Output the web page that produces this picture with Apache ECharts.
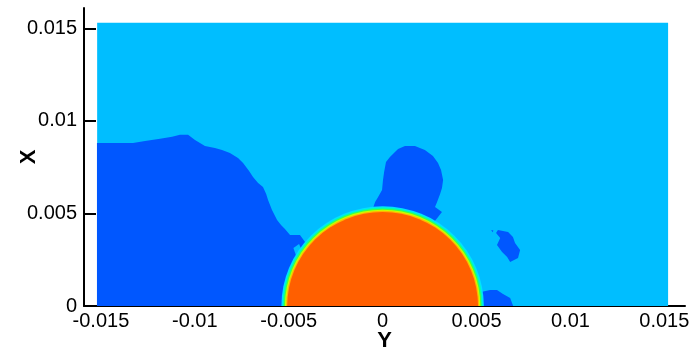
<!DOCTYPE html>
<html>
<head>
<meta charset="utf-8">
<script src="https://cdn.jsdelivr.net/npm/echarts@6/dist/echarts.min.js"></script>
<style>
html,body{margin:0;padding:0;background:#fff;}
#chart{width:690px;height:353px;}
</style>
</head>
<body>
<div id="chart"></div>
<script>
// ---- axis ranges and ticks ----
var xRange = [-0.0159, 0.0161];
var yRange = [0, 0.0161];
var xMajorTicks = [-0.015, -0.01, -0.005, 0, 0.005, 0.01, 0.015];
var xMajorLabels = ['-0.015', '-0.01', '-0.005', '0', '0.005', '0.01', '0.015'];
var xMinorTicks = [-0.014, -0.013, -0.012, -0.011, -0.009, -0.008, -0.007, -0.006,
  -0.004, -0.003, -0.002, -0.001, 0.001, 0.002, 0.003, 0.004, 0.006, 0.007, 0.008,
  0.009, 0.011, 0.012, 0.013, 0.014];
var yMajorTicks = [0, 0.005, 0.01, 0.015];
var yMajorLabels = ['0', '0.005', '0.01', '0.015'];
var yMinorTicks = [0.001, 0.002, 0.003, 0.004, 0.006, 0.007, 0.008, 0.009,
  0.011, 0.012, 0.013, 0.014];

// ---- field domain (x extent, y extent) ----
var domainX = [-0.0152, 0.0152];
var domainY = [0, 0.0153];

// ---- low-value (dark blue) regions, [Y, X] data points ----
var leftBlob = [[-0.01521, 0], [-0.01521, 0.00881], [-0.01329, 0.00881], [-0.01265, 0.00892],
  [-0.01185, 0.00903], [-0.01121, 0.00914], [-0.01079, 0.00925], [-0.01036, 0.00925],
  [-0.00999, 0.00897], [-0.00946, 0.00865], [-0.00893, 0.00854], [-0.00855, 0.00843],
  [-0.00813, 0.00827], [-0.00770, 0.00800], [-0.00743, 0.00773], [-0.00711, 0.00730],
  [-0.00690, 0.00697], [-0.00663, 0.00665], [-0.00637, 0.00643], [-0.00620, 0.00605],
  [-0.00610, 0.00573], [-0.00589, 0.00519], [-0.00562, 0.00465], [-0.00541, 0.00438],
  [-0.00520, 0.00416], [-0.00493, 0.00384], [-0.00440, 0.00384], [-0.00413, 0.00346],
  [-0.00333, 0.00249], [-0.00280, 0]];
var leftNotch = [[-0.00475, 0.00314], [-0.00445, 0.00335], [-0.00430, 0.00300], [-0.00460, 0.00270]];
var topBubble = [[-0.00051, 0.00529], [-0.00040, 0.00562], [-0.00024, 0.00589], [-0.00003, 0.00627],
  [0.00002, 0.00681], [0.00008, 0.00724], [0.00018, 0.00778], [0.00039, 0.00805],
  [0.00082, 0.00848], [0.00119, 0.00864], [0.00172, 0.00864], [0.00225, 0.00843],
  [0.00268, 0.00811], [0.00295, 0.00773], [0.00311, 0.00735], [0.00322, 0.00681],
  [0.00316, 0.00638], [0.00306, 0.00605], [0.00290, 0.00562], [0.00279, 0.00535],
  [0.00316, 0.00508], [0.00199, 0.00357], [-0.00014, 0.00357]];
var rightBlob = [[0.00614, 0.00411], [0.00668, 0.00400], [0.00694, 0.00373], [0.00705, 0.00340],
  [0.00732, 0.00303], [0.00721, 0.00259], [0.00679, 0.00238], [0.00663, 0.00265],
  [0.00636, 0.00292], [0.00609, 0.00330], [0.00626, 0.00367], [0.00604, 0.00394]];
var rightSpeck = [[0.00578, 0.00410], [0.00590, 0.00408], [0.00586, 0.00398]];
var floorBlob = [[0.00508, 0], [0.00524, 0.00076], [0.00572, 0.00086], [0.00609, 0.00086],
  [0.00641, 0.00065], [0.00679, 0.00043], [0.00695, 0]];

// ---- droplet: centre and contour-band radii (outer to inner) ----
var dropCenter = [0, 0];
var dropRadii = [0.00539, 0.00532, 0.00526, 0.00520, 0.00514, 0.00508];

// ---- styles ----
var bgColor = '#00BEFF';
var lowColor = '#0057FF';
var bandColors = ['#00E2FF', '#00FFB4', '#46FF3C', '#C8FF00', '#FFB400', '#FF5F00'];

var regions = [leftBlob, topBubble, rightBlob, rightSpeck, floorBlob];
var regionColors = [lowColor, lowColor, lowColor, lowColor, lowColor];
var patches = [leftNotch];

var chart = echarts.init(document.getElementById('chart'), null, {renderer: 'canvas'});

var font = 'Liberation Sans, Arial, sans-serif';
function lab(arr, vals) {
  return function (v) {
    for (var i = 0; i < vals.length; i++) if (Math.abs(vals[i] - v) < 1e-9) return arr[i];
    return '';
  };
}

var option = {
  animation: false,
  grid: {left: 84, right: 5, top: 8, bottom: 47, containLabel: false, outerBoundsMode: 'none'},
  xAxis: [{
    type: 'value', min: xRange[0], max: xRange[1], position: 'bottom',
    name: 'Y', nameLocation: 'middle', nameGap: 24, nameMoveOverlap: false,
    nameTextStyle: {fontFamily: font, fontWeight: 'bold', fontSize: 22, color: '#000'},
    axisLine: {show: true, onZero: false, lineStyle: {color: '#000', width: 2}},
    axisTick: {show: true, inside: true, length: 12, customValues: xMajorTicks, lineStyle: {color: '#000', width: 2}},
    axisLabel: {show: true, customValues: xMajorTicks, formatter: lab(xMajorLabels, xMajorTicks),
      fontFamily: font, fontSize: 20, color: '#000', margin: 5, hideOverlap: false},
    splitLine: {show: false}
  }, {
    type: 'value', min: xRange[0], max: xRange[1], position: 'bottom',
    axisLine: {show: false},
    axisTick: {show: true, inside: true, length: 7, customValues: xMinorTicks, lineStyle: {color: '#000', width: 1.5}},
    axisLabel: {show: false},
    splitLine: {show: false}
  }],
  yAxis: [{
    type: 'value', min: yRange[0], max: yRange[1], position: 'left',
    name: 'X', nameLocation: 'middle', nameGap: 44, nameRotate: 90, nameMoveOverlap: false,
    nameTextStyle: {fontFamily: font, fontWeight: 'bold', fontSize: 22, color: '#000'},
    axisLine: {show: true, onZero: false, lineStyle: {color: '#000', width: 2}},
    axisTick: {show: true, inside: true, length: 12, customValues: yMajorTicks, lineStyle: {color: '#000', width: 2}},
    axisLabel: {show: true, customValues: yMajorTicks, formatter: lab(yMajorLabels, yMajorTicks),
      fontFamily: font, fontSize: 20, color: '#000', margin: 7, hideOverlap: false},
    splitLine: {show: false}
  }, {
    type: 'value', min: yRange[0], max: yRange[1], position: 'left',
    axisLine: {show: false},
    axisTick: {show: true, inside: true, length: 7, customValues: yMinorTicks, lineStyle: {color: '#000', width: 1.5}},
    axisLabel: {show: false},
    splitLine: {show: false}
  }],
  series: [{
    type: 'custom', z: 1, silent: true,
    data: [[0, 0]],
    renderItem: function (params, api) {
      var p0 = api.coord([domainX[0], domainY[1]]);
      var p1 = api.coord([domainX[1], domainY[0]]);
      return {type: 'rect', shape: {x: p0[0], y: p0[1], width: p1[0] - p0[0], height: p1[1] - p0[1]},
        style: {fill: bgColor}};
    }
  }, {
    type: 'custom', z: 2, silent: true,
    data: regions.map(function () { return [0, 0]; }),
    renderItem: function (params, api) {
      var pts = regions[params.dataIndex].map(function (p) { return api.coord(p); });
      return {type: 'polygon', shape: {points: pts}, style: {fill: regionColors[params.dataIndex]}};
    }
  }, {
    type: 'custom', z: 3, silent: true,
    data: patches.map(function () { return [0, 0]; }),
    renderItem: function (params, api) {
      var pts = patches[params.dataIndex].map(function (p) { return api.coord(p); });
      return {type: 'polygon', shape: {points: pts}, style: {fill: bgColor}};
    }
  }, {
    type: 'custom', z: 4, silent: true,
    data: dropRadii.map(function () { return [0, 0]; }),
    renderItem: function (params, api) {
      var r = dropRadii[params.dataIndex];
      var c = api.coord(dropCenter);
      var s = api.size([r, r]);
      return {type: 'sector',
        shape: {cx: c[0], cy: c[1], r: s[0], r0: 0, startAngle: Math.PI, endAngle: 2 * Math.PI, clockwise: true},
        originX: c[0], originY: c[1], scaleY: s[1] / s[0],
        style: {fill: bandColors[params.dataIndex]}};
    }
  }]
};
chart.setOption(option);
</script>
</body>
</html>
